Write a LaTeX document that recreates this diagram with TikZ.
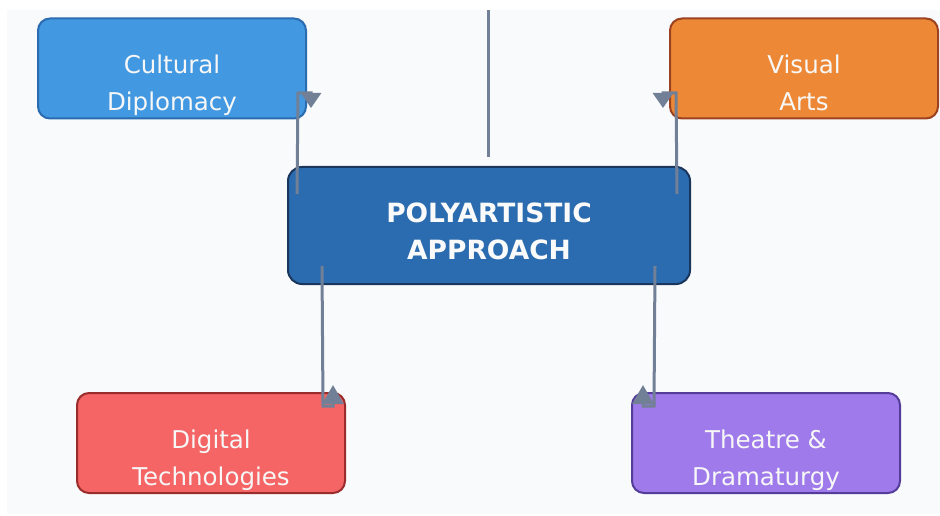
\documentclass[tikz,border=0pt]{standalone}
\usepackage{fontspec}
\setmainfont{DejaVu Sans}
\usetikzlibrary{arrows.meta,calc}

\definecolor{bgpaper}{HTML}{F8FAFC}
\definecolor{linkgray}{HTML}{718096}
\definecolor{culturefill}{HTML}{4299E1}
\definecolor{cultureline}{HTML}{2B6CB0}
\definecolor{visualfill}{HTML}{ED8936}
\definecolor{visualline}{HTML}{9C4221}
\definecolor{corefill}{HTML}{2B6CB0}
\definecolor{coreline}{HTML}{1A365D}
\definecolor{digitalfill}{HTML}{F56565}
\definecolor{digitalline}{HTML}{9B2C2C}
\definecolor{theatrefill}{HTML}{9F7AEA}
\definecolor{theatreline}{HTML}{553C9A}

\begin{document}
\begin{tikzpicture}[x=1pt,y=-1pt,
    areabox/.style={draw,line width=2pt,rounded corners=12pt,minimum width=268pt,
      minimum height=100pt,inner sep=0pt},
    corebox/.style={draw,line width=2pt,rounded corners=14pt,minimum width=402pt,
      minimum height=117pt,inner sep=0pt},
    areatext/.style={text=white!94!gray,align=center,inner sep=0pt,
      font=\fontsize{24.5}{37.5}\selectfont},
    coretext/.style={text=white!96!gray,align=center,inner sep=0pt,
      font=\fontsize{26.5}{37}\selectfont\bfseries},
    link/.style={draw=linkgray,line width=3pt,-{Triangle[length=15pt,width=20pt]}},
    uplink/.style={draw=linkgray,line width=3pt,-{Triangle[length=19pt,width=21pt]}}]

\useasboundingbox (0,0) rectangle (940,516);
\fill[bgpaper] (7,10) rectangle (940,514);

% boxes
\node[areabox,fill=culturefill,draw=cultureline] (cultural) at (172,68.5) {};
\node[areabox,fill=visualfill,draw=visualline] (visual) at (804,68.5) {};
\node[corebox,fill=corefill,draw=coreline] (core) at (489,225.5) {};
\node[areabox,fill=digitalfill,draw=digitalline] (digital) at (211,443) {};
\node[areabox,fill=theatrefill,draw=theatreline] (theatre) at (766,443) {};

% texts
\node[areatext] (cultural text) at (172,85) {Cultural\\Diplomacy};
\node[areatext] (visual text) at (804,83) {Visual\\Arts};
\node[coretext] (core text) at (489,231) {POLYARTISTIC\\APPROACH};
\node[areatext] (digital text) at (211,460) {Digital\\Technologies};
\node[areatext] (theatre text) at (766,460) {Theatre \&\\Dramaturgy};

\coordinate (feed) at (488,10);
\coordinate (cultural end) at (298,93);
\coordinate (visual end) at (676,93);
\coordinate (digital end) at (323,406);
\coordinate (theatre end) at (654,406);

\draw[linkgray,line width=3pt] (feed) -- ($(core.north)+(-1,-9)$);

\draw[link] ($(core.north west)+(10,28)$) -- (cultural end) -- ++(13,0) -- ++(0,15);
\draw[link] ($(core.north east)+(-14,28)$) -- (visual end) -- ++(-13,0) -- ++(0,15);
\draw[uplink] ($(core.south west)+(35,-19)$) -- (digital end) -- ++(10,0) -- ++(0,-21);
\draw[uplink] ($(core.south east)+(-36,-19)$) -- (theatre end) -- ++(-11,0) -- ++(0,-21);
\end{tikzpicture}
\end{document}
